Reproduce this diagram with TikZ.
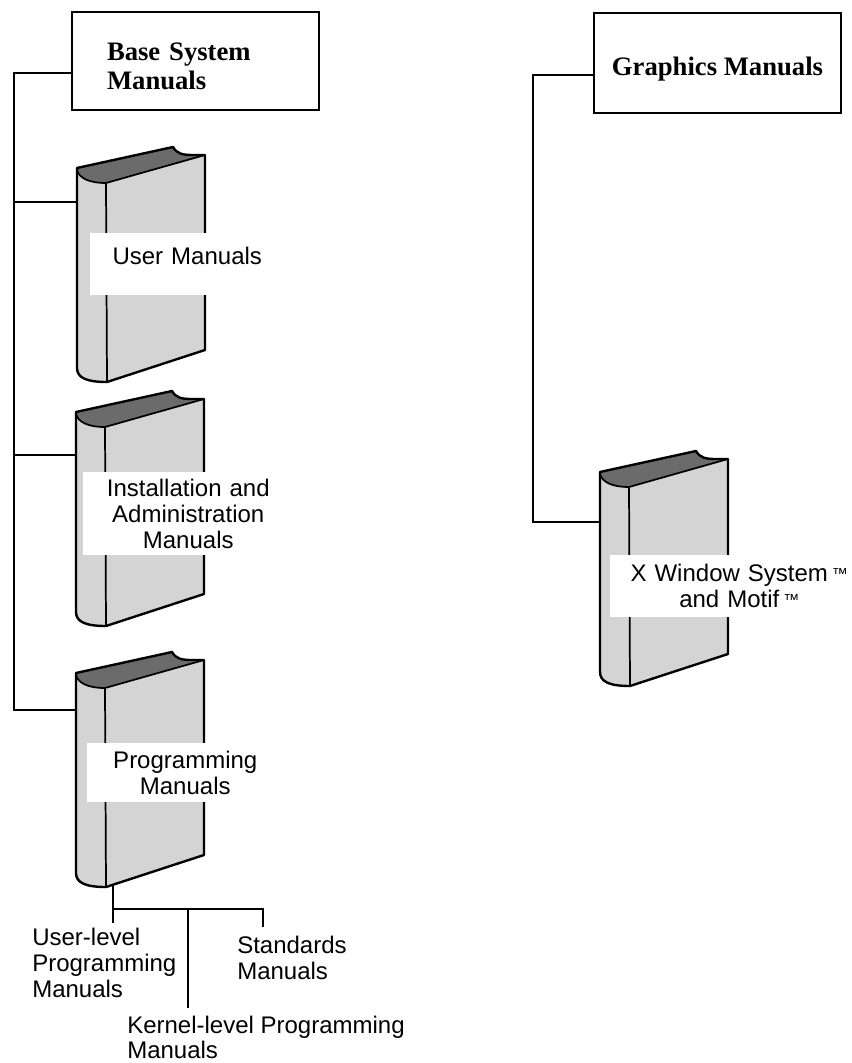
\documentclass[tikz,border=0pt]{standalone}
\usepackage{fontspec}
\setmainfont{Liberation Serif}
\newfontfamily\labelfont{Liberation Sans}
\usepackage{tikz}
\tikzset{
	headstyle/.style={rectangle,draw=black,line width=1.4pt,fill=white,inner sep=0pt,minimum width=185.25pt,font=\fontsize{20}{21.75}\selectfont\bfseries},
	labelstyle/.style={rectangle,fill=white,inner sep=0pt,anchor=north west,align=center,font=\labelfont\fontsize{18}{19.5}\selectfont},
	subtextstyle/.style={inner sep=0pt,anchor=north west,align=left,font=\labelfont\fontsize{18}{19.5}\selectfont},
	linkstyle/.style={draw=black,line width=1.4pt},
	pagestyle/.style={fill=black!17},
	topstyle/.style={fill=black!58},
	edgestyle/.style={draw=black,line width=1.8pt,line join=round},
	spinestyle/.style={draw=black,line width=1.3pt}
}
\newcommand{\tm}{\,{\fontsize{12}{12}\selectfont\raisebox{2pt}{™}}}
% one book, shifted so that (0,0) is the top left corner of its spine
\newcommand{\manual}[2]{
	\begin{scope}[shift={(#1,#2)}]
		\fill[pagestyle] (0,0) -- (96,-21) .. controls (100,-14) and (106,-13) .. (116,-13) -- (128,-13) -- (128,182) -- (30,214) .. controls (10,214) and (0,210) .. (0,200) -- cycle;
		\fill[topstyle] (0,0) -- (96,-21) .. controls (100,-14) and (106,-13) .. (116,-13) -- (128,-13) -- (29,15) .. controls (12,15) and (2,10) .. (0,2) -- cycle;
		\draw[spinestyle] (0,2) .. controls (2,10) and (12,15) .. (29,15) -- (128,-13);
		\draw[spinestyle] (29,15) -- (30,214);
		\draw[edgestyle] (0,0) -- (96,-21) .. controls (100,-14) and (106,-13) .. (116,-13) -- (128,-13) -- (128,182) -- (30,214) .. controls (10,214) and (0,210) .. (0,200) -- cycle;
	\end{scope}
}

\begin{document}
\begin{tikzpicture}[x=0.75pt,y=-0.75pt]
	\useasboundingbox (0,0) rectangle (851,1063);
	% headings
	\node[headstyle,minimum height=73.5pt,text width=132.75pt,align=left] (base) at (195.5,61) {\rule{0pt}{21pt}Base System\\Manuals};
	\node[headstyle,minimum height=75pt,text height=22.5pt,text depth=4.5pt] (graphics) at (717.5,63) {Graphics Manuals};
	% books
	\manual{77}{168}
	\manual{76}{412}
	\manual{76}{673}
	\manual{600}{472}
	\node[labelstyle,minimum height=46.5pt,text width=145.5pt,text height=13.5pt,text depth=13.5pt] (user) at (90,233) {User Manuals};
	\node[labelstyle,minimum height=62.25pt,text width=157.5pt] (admin) at (83,472) {Installation and\\Administration\\Manuals};
	\node[labelstyle,minimum height=44.25pt,text width=147pt] (prog) at (87,743) {Programming\\Manuals};
	\node[labelstyle,minimum height=46.5pt,text width=193.5pt] (xwin) at (610,555) {X Window System\tm\\and Motif\tm};
	% programming manuals
	\node[subtextstyle] (ulevel) at (32,928) {User-level\\Programming\\Manuals};
	\node[subtextstyle] (std) at (237,936) {Standards\\Manuals};
	\node[subtextstyle,font=\labelfont\fontsize{18}{18.5}\selectfont] (klevel) at (127,1016) {Kernel-level Programming\\Manuals};
	% connectors
	\coordinate (t1) at (14,202);
	\coordinate (t2) at (14,455);
	\coordinate (t3) at (14,710);
	\coordinate (m1) at (77,202);
	\coordinate (m2) at (76,455);
	\coordinate (m3) at (76,710);
	\coordinate (t4) at (533,522);
	\coordinate (m4) at (600,522);
	\coordinate (pb) at (113,884);
	\coordinate (fork) at (113,909);
	\coordinate (ul) at (113,923);
	\coordinate (kl) at (188,1008);
	\coordinate (st) at (263,927);
	\draw[linkstyle] ([yshift=-9pt]base.west) -| (t3) -- (m3);
	\draw[linkstyle] (t1) -- (m1);
	\draw[linkstyle] (t2) -- (m2);
	\draw[linkstyle] ([yshift=-9pt]graphics.west) -| (t4) -- (m4);
	\draw[linkstyle] (pb) -- (ul);
	\draw[linkstyle] (fork) -| (st);
	\draw[linkstyle] (kl) -- (kl |- fork);
\end{tikzpicture}
\end{document}
